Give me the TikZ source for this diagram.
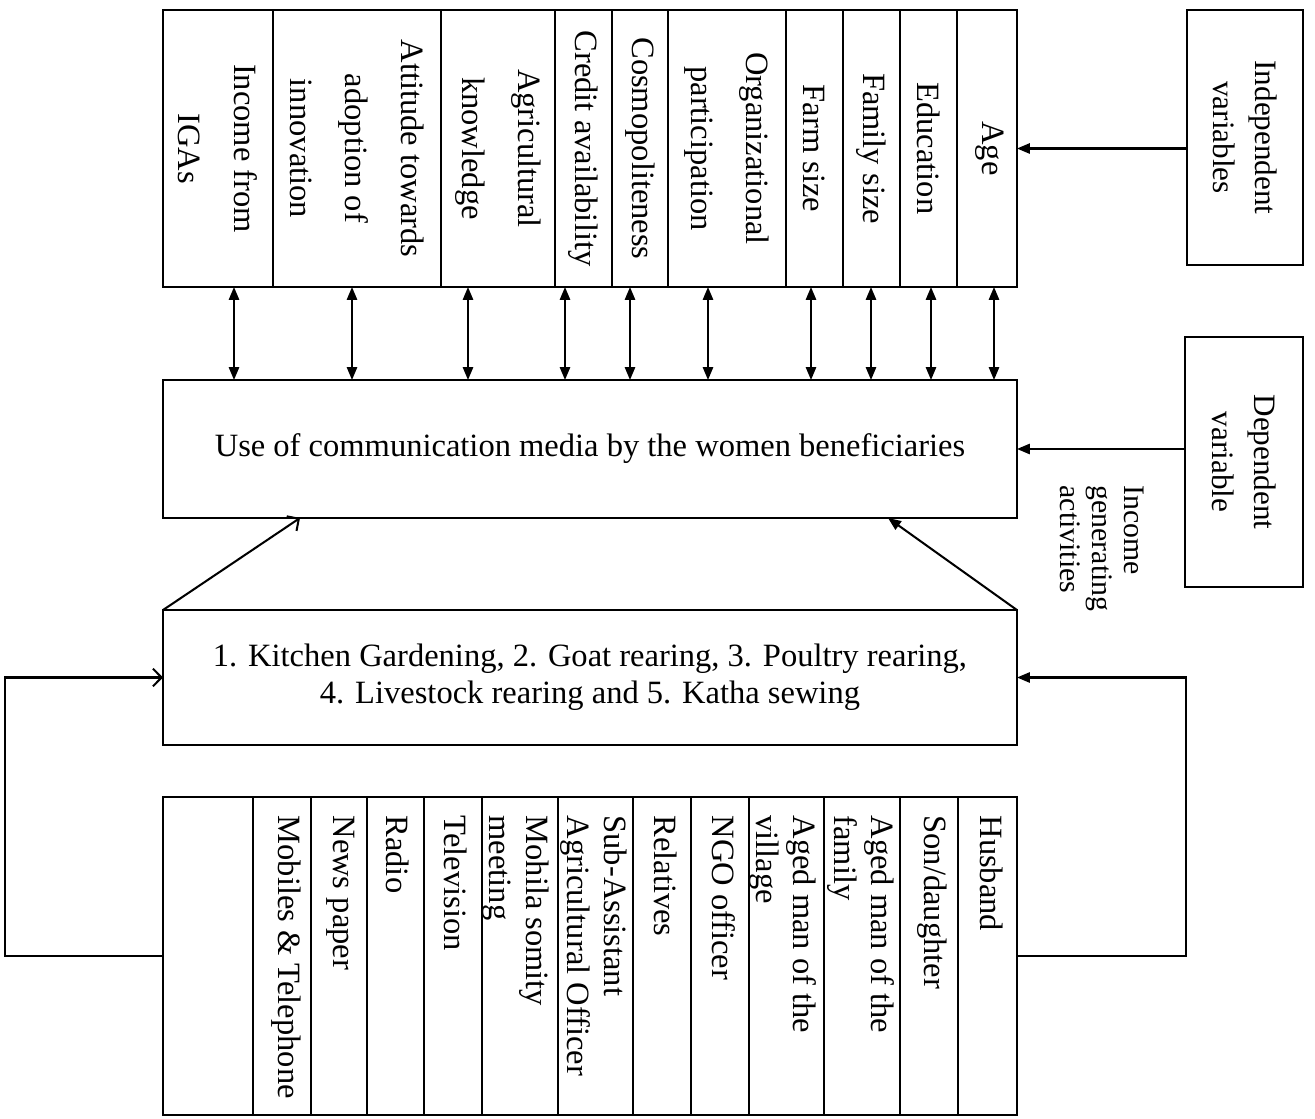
\documentclass[tikz,border=0pt]{standalone}
\usepackage{fontspec}
\setmainfont{Liberation Serif}
\usetikzlibrary{arrows.meta}

\begin{document}
\begin{tikzpicture}[x=0.369pt, y=-0.369pt,
  box/.style={draw, line width=0.9pt, inner sep=0pt, outer sep=0pt},
  coltext/.style={rotate=-90, align=center, font=\fontsize{12}{20.5}\selectfont},
  srctext/.style={rotate=-90, anchor=west, align=left, font=\fontsize{12}{13.5}\selectfont},
  sidetext/.style={rotate=-90, align=center, font=\fontsize{11.5}{15.5}\selectfont},
  twoway/.style={{Triangle[length=4.8pt,width=3.8pt]}-{Triangle[length=4.8pt,width=3.8pt]}, line width=0.75pt},
  solidarr/.style={-{Triangle[length=4.8pt,width=3.8pt]}, line width=0.75pt},
  openarr/.style={-{Straight Barb[length=3.2pt,width=6.5pt]}, line width=0.75pt}]
  \useasboundingbox (0,0) rectangle (1315,1119);
  % main boxes
  \node[box, minimum width=315.1pt, minimum height=102.2pt] (vars) at (590,148.5) {};
  \node[box, minimum width=315.1pt, minimum height=50.9pt, font=\fontsize{12}{14}\selectfont] (media) at (590,449) {Use of communication media by the women beneficiaries};
  \node[box, minimum width=315.1pt, minimum height=49.8pt, align=center, font=\fontsize{12}{13.5}\selectfont] (iga) at (590,677.5) {1. Kitchen Gardening, 2. Goat rearing, 3. Poultry rearing,\\4. Livestock rearing and 5. Katha sewing};
  \node[box, minimum width=315.1pt, minimum height=117.3pt] (src) at (590,956) {};
  \node[box, minimum width=42.8pt, minimum height=94.1pt] (indep) at (1245,137.5) {};
  \node[sidetext] (indeplbl) at (1245,137.5) {Independent\\variables};
  \node[box, minimum width=43.5pt, minimum height=92.3pt] (dep) at (1244,462) {};
  \node[sidetext] (deplbl) at (1244,462) {Dependent\\variable};
  \node[rotate=-90, anchor=west, align=left, font=\fontsize{11}{11.8}\selectfont] (igalbl) at (1102,476) {Income\\generating\\activities};
  % column rules
  \foreach \x in {273,441,555,612,668,786,843,900,957}
    \draw[line width=0.5pt] (\x,10) -- (\x,287);
  \foreach \x in {253,311,367,424,482,558,633,691,749,824,900,958}
    \draw[line width=0.5pt] (\x,797) -- (\x,1115);
  % independent variables
  \node[coltext] (income) at (218,148.5) {Income from\\IGAs};
  \node[coltext] (attitude) at (357,148.5) {Attitude towards\\adoption of\\innovation};
  \node[coltext] (agriknow) at (498,148.5) {Agricultural\\knowledge};
  \node[coltext] (credit) at (583.5,148.5) {Credit availability};
  \node[coltext] (cosmo) at (640,148.5) {Cosmopoliteness};
  \node[coltext] (orgpart) at (727,148.5) {Organizational\\participation};
  \node[coltext] (farmsize) at (814.5,148.5) {Farm size};
  \node[coltext] (famsize) at (871.5,148.5) {Family size};
  \node[coltext] (edu) at (928.5,148.5) {Education};
  \node[coltext] (age) at (990,148.5) {Age};
  % information sources
  \node[srctext] (mobile) at (286,806) {Mobiles \& Telephone};
  \node[srctext] (paper) at (341,806) {News paper};
  \node[srctext] (radio) at (398,806) {Radio};
  \node[srctext] (tv) at (456,806) {Television};
  \node[srctext] (mohila) at (516,806) {Mohila somity\\meeting};
  \node[srctext] (saao) at (594,806) {Sub-Assistant\\Agricultural Officer};
  \node[srctext] (relatives) at (666,806) {Relatives};
  \node[srctext] (ngo) at (724,806) {NGO officer};
  \node[srctext] (agedvil) at (783,806) {Aged man of the\\village};
  \node[srctext] (agedfam) at (861,806) {Aged man of the\\family};
  \node[srctext] (son) at (932,806) {Son/daughter};
  \node[srctext] (husband) at (992,806) {Husband};
  % connectors
  \foreach \x in {234,352,468,565,630,708,811,871,931,994}
    \draw[twoway] (vars.south -| \x,0) -- (media.north -| \x,0);
  \draw[solidarr] (indep.west |- vars.east) -- (vars.east);
  \draw[solidarr] (dep.west |- media.east) -- (media.east);
  \draw[openarr] (iga.north west) -- (media.south -| 300,0);
  \draw[solidarr] (iga.north east) -- (media.south -| 888,0);
  \draw[openarr] (src.west) -- (5,0 |- src.west) |- (iga.west);
  \draw[solidarr] (src.east) -- (1186,0 |- src.east) |- (iga.east);
\end{tikzpicture}
\end{document}
